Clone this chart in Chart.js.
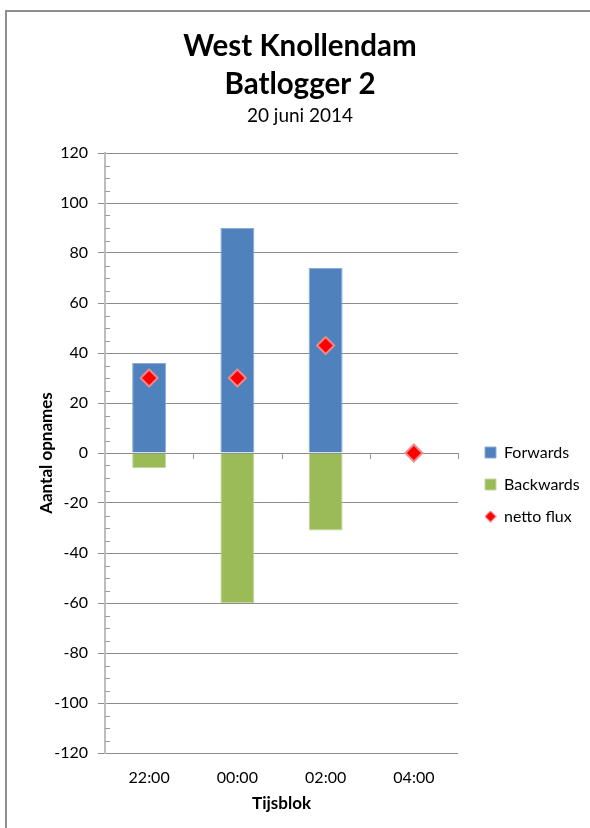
<!DOCTYPE html>
<html>
<head>
<meta charset="utf-8">
<script src="https://cdn.jsdelivr.net/npm/chart.js@4.4.1/dist/chart.umd.min.js"></script>
<style>
  html, body { margin: 0; padding: 0; background: #fff; overflow: hidden; }
  #frame { position: absolute; left: 5px; top: 10px; width: 700px; height: 900px; border: 2px solid #8e8e8e; }
  #wrap { position: absolute; left: 0; top: 0; width: 590px; height: 828px; }
</style>
</head>
<body>
<div id="frame"></div>
<div id="wrap"><canvas id="chart"></canvas></div>
<script>
// chart data
const categories = ["22:00", "00:00", "02:00", "04:00"];
const forwards = [36, 90, 74, 0];
const backwards = [-6, -60, -31, 0];
const netto = [30, 30, 43, 0];
const yTicks = [-120, -100, -80, -60, -40, -20, 0, 20, 40, 60, 80, 100, 120];

const FONT = "Lato";
const q = id => document.getElementById(id);

// small diamond used as the legend icon for netto flux
function legendDiamond(){
  const c = document.createElement("canvas");
  c.width = 12; c.height = 12;
  const g = c.getContext("2d");
  g.beginPath();
  g.moveTo(6, 0.5); g.lineTo(11.5, 6); g.lineTo(6, 11.5); g.lineTo(0.5, 6); g.closePath();
  g.fillStyle = "#FF0000"; g.fill();
  g.strokeStyle = "rgba(236,140,140,0.9)"; g.lineWidth = 1; g.stroke();
  return c;
}
const diamondIcon = legendDiamond();

// small ticks: minor ticks on the y axis, category ticks on the zero line
const axisTicks = {
  id: "axisTicks",
  afterDatasetsDraw(chart){
    const {ctx, chartArea: a, scales: {x, y}} = chart;
    ctx.save();
    ctx.strokeStyle = "#9a9a9a";
    ctx.lineWidth = 1;
    ctx.beginPath();
    for(let v = yTicks[0]; v <= yTicks[yTicks.length - 1]; v += 5){
      if(v % 20 === 0) continue;
      const py = Math.round(y.getPixelForValue(v)) + 0.5;
      ctx.moveTo(a.left, py); ctx.lineTo(a.left + 5, py);
    }
    const zy = Math.round(y.getPixelForValue(0));
    const w = (x.right - x.left) / categories.length;
    for(let i = 1; i <= categories.length; i++){
      const px = Math.round(x.left + i * w) + 0.5;
      ctx.moveTo(px, zy); ctx.lineTo(px, zy + 6);
    }
    ctx.stroke();
    ctx.restore();
  }
};

new Chart(q("chart"), {
  data: {
    labels: categories,
    datasets: [
      { type: "bar", label: "Forwards", data: forwards, backgroundColor: "#4F81BD", borderColor: "#8EAADB", borderWidth: 1, pointStyle: "rect" },
      { type: "bar", label: "Backwards", data: backwards, backgroundColor: "#9BBB59", borderColor: "#C5D89E", borderWidth: 1, pointStyle: "rect" },
      { type: "line", label: "netto flux", data: netto, showLine: false, order: -1,
        pointStyle: "rectRot", pointRadius: 8.5, pointHoverRadius: 8.5,
        backgroundColor: "#FF0000", borderColor: "rgba(236,140,140,0.95)", borderWidth: 2 }
    ]
  },
  plugins: [axisTicks],
  options: {
    responsive: true,
    maintainAspectRatio: false,
    animation: false,
    layout: { padding: { top: 10, left: 21, right: 11, bottom: 8 } },
    datasets: { bar: { categoryPercentage: 1, barPercentage: 0.385 } },
    plugins: {
      title: {
        display: true,
        text: ["West Knollendam", "Batlogger 2"],
        color: "#000",
        font: { family: FONT, size: 29.5, weight: "bold", lineHeight: 38 / 29.5 },
        padding: { top: 17, bottom: 1.6 }
      },
      subtitle: {
        display: true,
        text: "20 juni 2014",
        color: "#000",
        font: { family: FONT, size: 19, lineHeight: 1.2 },
        padding: { top: 0, bottom: 25.6 }
      },
      legend: {
        position: "right",
        fullSize: false,
        maxWidth: 110,
        title: { display: true, text: "", font: { size: 12, lineHeight: 1 }, padding: { top: 51, bottom: 0 } },
        labels: {
          usePointStyle: true,
          boxWidth: 11, boxHeight: 11,
          padding: 16,
          color: "#000",
          font: { family: FONT, size: 16 },
          sort: (a, b) => a.datasetIndex - b.datasetIndex,
          generateLabels: chart => {
            const items = Chart.defaults.plugins.legend.labels.generateLabels(chart);
            items.forEach(it => { if(it.datasetIndex === 2) it.pointStyle = diamondIcon; });
            return items;
          }
        }
      },
      tooltip: { enabled: false }
    },
    scales: {
      x: {
        stacked: true,
        afterFit: s => { s.height = 67; },
        grid: { display: false, drawTicks: false },
        border: { display: false },
        ticks: { color: "#000", padding: 15, font: { family: FONT, size: 16 } },
        title: { display: true, text: "Tijsblok", color: "#000", font: { family: FONT, size: 17, weight: "bold" }, padding: { top: 6, bottom: 5.8 } }
      },
      y: {
        stacked: true,
        min: -120, max: 120,
        afterFit: s => { s.width = 84; },
        ticks: { stepSize: 20, color: "#000", padding: 10, font: { family: FONT, size: 16 } },
        grid: { color: "#8c8c8c", lineWidth: 1, tickLength: 7 },
        border: { display: true, color: "#bdbdbd", width: 2 },
        title: { display: true, text: "Aantal opnames", color: "#000", font: { family: FONT, size: 17, weight: "bold" }, padding: { top: 15.8, bottom: 4 } }
      },
      gap: {
        type: "linear",
        position: "right",
        afterFit: s => { s.width = 11; },
        ticks: { display: false },
        grid: { display: false, drawTicks: false },
        border: { display: false }
      }
    }
  }
});
</script>
</body>
</html>
